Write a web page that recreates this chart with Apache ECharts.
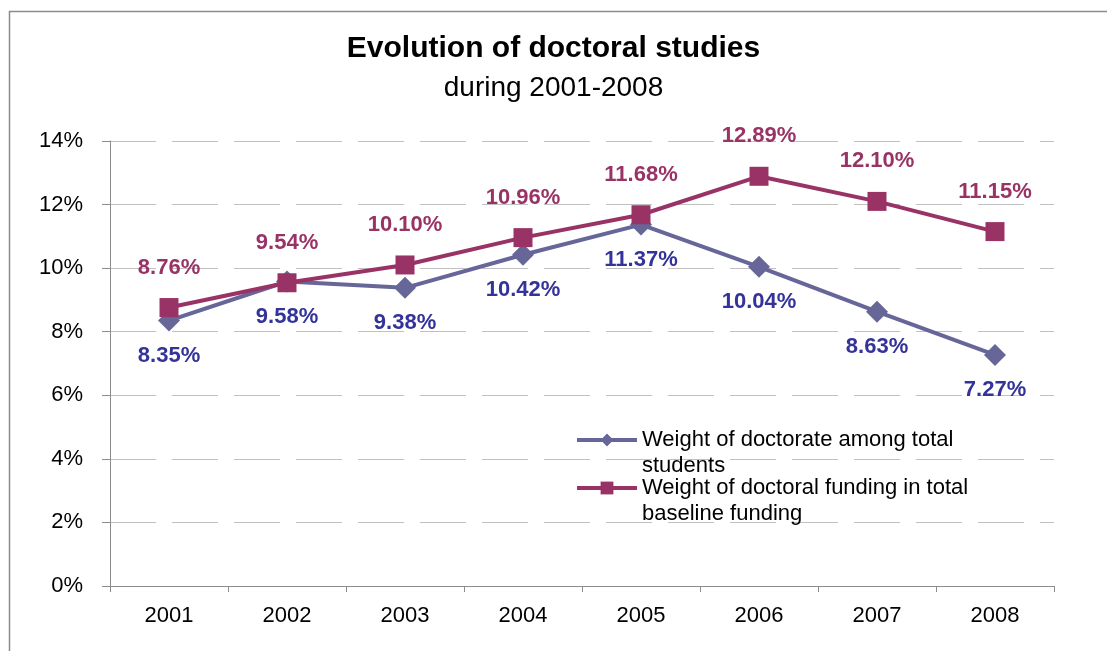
<!DOCTYPE html>
<html>
<head>
<meta charset="utf-8">
<style>
  html, body { margin: 0; padding: 0; background: #ffffff; }
  #chart { width: 1107px; height: 651px; }
</style>
<script src="https://cdn.jsdelivr.net/npm/echarts@6/dist/echarts.min.js"></script>
</head>
<body>
<div id="chart"></div>
<script>
// Years on the category axis
const years = ['2001', '2002', '2003', '2004', '2005', '2006', '2007', '2008'];
// Share of doctoral students among all students (%)
const doctorateShare = [8.35, 9.58, 9.38, 10.42, 11.37, 10.04, 8.63, 7.27];
// Share of doctoral funding in the total baseline funding (%)
const fundingShare = [8.76, 9.54, 10.10, 10.96, 11.68, 12.89, 12.10, 11.15];
// Series names as shown in the legend
const seriesNames = [
  'Weight of doctorate among total\nstudents',
  'Weight of doctoral funding in total\nbaseline funding'
];
// Value-axis range and step (%)
const yMin = 0, yMax = 14, yStep = 2;

const FONT = '"Liberation Sans", Arial, sans-serif';

const chart = echarts.init(document.getElementById('chart'), null, { renderer: 'canvas' });

const pctLabel = p => p.value.toFixed(2) + '%';

// Each legend entry: the leading blank line keeps the first text line level with the icon
function legendFor(name, top) {
  return {
    data: [name],
    orient: 'vertical',
    left: 575,
    top: top,
    padding: 0,
    itemWidth: 60,
    itemHeight: 16,
    lineStyle: { width: 4 },
    formatter: n => '\n' + n,
    textStyle: {
      fontFamily: FONT,
      fontSize: 22,
      color: '#000000',
      lineHeight: 26
    }
  };
}

chart.setOption({
  backgroundColor: '#ffffff',
  animation: false,
  title: {
    text: 'Evolution of doctoral studies',
    subtext: 'during 2001-2008',
    left: 'center',
    top: 34,
    padding: 0,
    itemGap: 10,
    textStyle: { fontFamily: FONT, fontSize: 30, fontWeight: 'bold', color: '#000000', lineHeight: 30 },
    subtextStyle: { fontFamily: FONT, fontSize: 28, color: '#000000', lineHeight: 28 }
  },
  graphic: [{
    type: 'rect',
    shape: { x: 9.5, y: 11.5, width: 1300, height: 900 },
    style: { fill: 'none', stroke: '#8c8c8c', lineWidth: 1.5 },
    silent: true
  }],
  legend: [legendFor(seriesNames[0], 401), legendFor(seriesNames[1], 449)],
  grid: { left: 110, right: 53, top: 141, bottom: 65, containLabel: false },
  xAxis: {
    type: 'category',
    data: years,
    boundaryGap: true,
    axisLine: { lineStyle: { color: '#8c8c8c', width: 1 } },
    axisTick: { show: true, alignWithLabel: false, length: 6, lineStyle: { color: '#8c8c8c' } },
    axisLabel: { fontFamily: FONT, fontSize: 22, color: '#000000', margin: 19 },
    splitLine: { show: false }
  },
  yAxis: {
    type: 'value',
    min: yMin,
    max: yMax,
    interval: yStep,
    axisLine: { show: true, lineStyle: { color: '#8c8c8c', width: 1 } },
    axisTick: { show: true, inside: false, length: 8, lineStyle: { color: '#8c8c8c' } },
    axisLabel: { fontFamily: FONT, fontSize: 22, color: '#000000', margin: 27, formatter: v => v + '%' },
    splitLine: { show: true, lineStyle: { color: '#c0c0c0', width: 1, type: [46, 16] } }
  },
  series: [{
    name: seriesNames[0],
    type: 'line',
    data: doctorateShare,
    symbol: 'diamond',
    symbolSize: 22,
    z: 2,
    lineStyle: { color: '#666699', width: 4 },
    itemStyle: { color: '#666699' },
    label: {
      show: true,
      position: 'inside',
      offset: [0, 35],
      formatter: pctLabel,
      fontFamily: FONT,
      fontSize: 22,
      fontWeight: 'bold',
      color: '#333399'
    }
  }, {
    name: seriesNames[1],
    type: 'line',
    data: fundingShare,
    symbol: 'rect',
    symbolSize: 19,
    z: 3,
    lineStyle: { color: '#993366', width: 4 },
    itemStyle: { color: '#993366' },
    label: {
      show: true,
      position: 'inside',
      offset: [0, -40],
      formatter: pctLabel,
      fontFamily: FONT,
      fontSize: 22,
      fontWeight: 'bold',
      color: '#993366'
    }
  }]
});
</script>
</body>
</html>
